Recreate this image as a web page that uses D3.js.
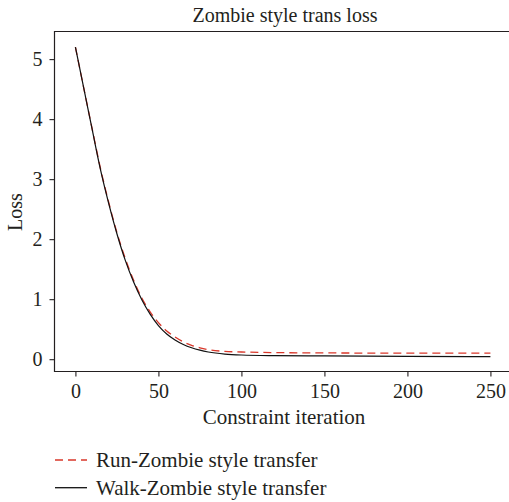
<!DOCTYPE html>
<html><head><meta charset="utf-8">
<script src="https://cdn.jsdelivr.net/npm/d3@7"></script>
<style>body{margin:0;background:#fff}svg{display:block}text{font-family:"Liberation Serif","Times New Roman",serif;fill:#231f20}</style>
</head><body>
<script>
const iterations = [0,5,10,15,20,25,30,35,40,45,50,55,60,65,70,75,80,90,100,120,150,200,250];
const walkLoss  = [5.2,4.52,3.84,3.17,2.6,2.09,1.65,1.29,0.99,0.75,0.56,0.42,0.32,0.245,0.19,0.15,0.12,0.085,0.07,0.06,0.055,0.048,0.043];
const runLoss   = [5.2,4.52,3.85,3.19,2.62,2.11,1.68,1.32,1.02,0.79,0.61,0.47,0.37,0.29,0.23,0.19,0.16,0.13,0.12,0.11,0.105,0.1,0.1];
const xTicks = [0,50,100,150,200,250];
const yTicks = [0,1,2,3,4,5];
const seriesNames = ["Run-Zombie style transfer","Walk-Zombie style transfer"];
const title = "Zombie style trans loss";
const xLabel = "Constraint iteration";
const yLabel = "Loss";

const W=509,H=502;
const svg=d3.select("body").append("svg").attr("width",W).attr("height",H);
const L=54.5,T=31.5,R=512,B=371.5;
const x=d3.scaleLinear().domain([-12.6,263]).range([L,R]);
const y=d3.scaleLinear().domain([-0.205,5.46]).range([B,T]);

svg.append("path").attr("d",`M${R},${T}H${L}V${B}H${R}`).attr("fill","none").attr("stroke","#231f20").attr("stroke-width",1.2);

const xa=svg.append("g").attr("transform",`translate(0,${B})`).call(d3.axisBottom(x).tickValues(xTicks).tickSize(5).tickPadding(7).tickFormat(d3.format("d")));
const ya=svg.append("g").attr("transform",`translate(${L},0)`).call(d3.axisLeft(y).tickValues(yTicks).tickSize(5).tickPadding(7).tickFormat(d3.format("d")));
[xa,ya].forEach(a=>{a.attr("font-family",null).attr("font-size",null);a.select(".domain").remove();a.selectAll("line").attr("stroke","#231f20").attr("stroke-width",1.1);a.selectAll("text").attr("font-size",20).attr("fill","#231f20");});

const line=d3.line().x(d=>x(d[0])).y(d=>y(d[1])).curve(d3.curveMonotoneX);
svg.append("path").datum(iterations.map((v,i)=>[v,runLoss[i]])).attr("d",line).attr("fill","none").attr("stroke","#d9372a").attr("stroke-width",1.3).attr("stroke-dasharray","8,5");
svg.append("path").datum(iterations.map((v,i)=>[v,walkLoss[i]])).attr("d",line).attr("fill","none").attr("stroke","#111").attr("stroke-width",1.2);

svg.append("text").attr("x",285).attr("y",21.5).attr("text-anchor","middle").attr("font-size",20).text(title);
svg.append("text").attr("x",284).attr("y",424).attr("text-anchor","middle").attr("font-size",21).text(xLabel);
svg.append("text").attr("transform","translate(22,212) rotate(-90)").attr("text-anchor","middle").attr("font-size",20).text(yLabel);

const lg=svg.append("g");
const styles=[{c:"#d9372a",d:"8,5"},{c:"#111",d:null}];
seriesNames.forEach((n,i)=>{
  const yy=460+i*27.7;
  lg.append("line").attr("x1",55).attr("x2",87).attr("y1",yy).attr("y2",yy).attr("stroke",styles[i].c).attr("stroke-width",1.3).attr("stroke-dasharray",styles[i].d);
  lg.append("text").attr("x",96).attr("y",yy+7).attr("font-size",21).text(n);
});
</script>
</body></html>
